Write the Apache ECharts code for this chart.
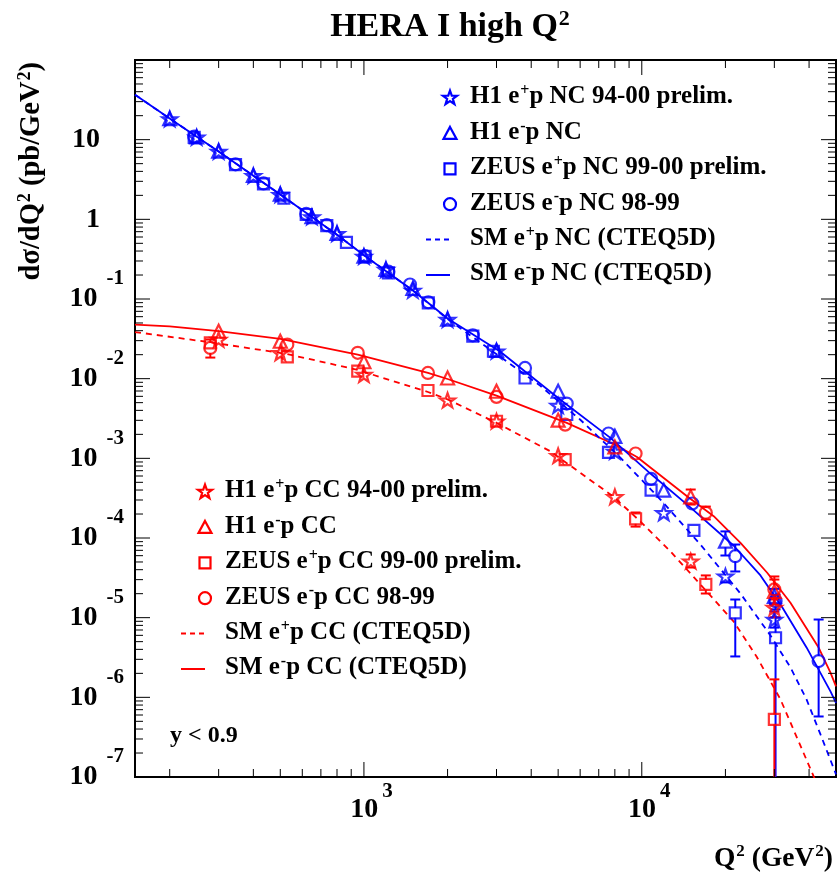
<!DOCTYPE html>
<html><head><meta charset="utf-8">
<script src="https://cdn.jsdelivr.net/npm/echarts@6/dist/echarts.min.js"></script>
<style>html,body{margin:0;padding:0;background:#fff}#c{width:837px;height:880px}</style>
</head><body><div id="c"></div>
<script>
// ---------------- DATA ----------------
// H1 e+p NC 94-00 prelim. (blue open stars)
const h1PosNC_q  = [200,250,300,400,500,650,800,1000,1200,1500,2000,3000,5000,8000,12000,20000,30000];
const h1PosNC_s  = [18.2,10.7,7.13,3.53,2.04,1.07,0.662,0.342,0.234,0.128,0.0552,0.0221,0.0046,0.00122,2.07e-4,3.32e-5,9.5e-6];
const h1PosNC_lo = [null,null,null,null,null,null,null,null,null,null,null,null,null,null,null,2.77e-5,7.5e-6];
const h1PosNC_hi = [null,null,null,null,null,null,null,null,null,null,null,null,null,null,null,3.91e-5,1.2e-5];
// H1 e-p NC (blue open triangles)
const h1NegNC_q  = [200,250,300,400,500,650,800,1000,1200,1500,2000,3000,5000,8000,12000,20000,30000];
const h1NegNC_s  = [18.4,10.8,7.2,3.56,2.07,1.08,0.668,0.346,0.236,0.136,0.0558,0.0226,0.00695,0.00189,3.98e-4,9.12e-5,1.85e-5];
const h1NegNC_lo = [null,null,null,null,null,null,null,null,null,null,null,null,null,null,null,6.03e-5,1.47e-5];
const h1NegNC_hi = [null,null,null,null,null,null,null,null,null,null,null,null,null,null,null,1.21e-4,2.3e-5];
// ZEUS e+p NC 99-00 prelim. (blue open squares)
const zeusPosNC_q  = [245,345,435,515,620,735,865,1010,1225,1705,2465,2925,3800,5370,7590,10800,15400,21700,30300];
const zeusPosNC_s  = [10.7,4.85,2.78,1.85,1.15,0.834,0.515,0.344,0.213,0.0893,0.0341,0.0221,0.0102,0.00355,0.00119,3.98e-4,1.25e-4,1.15e-5,5.6e-6];
const zeusPosNC_lo = [null,null,null,null,null,null,null,null,null,null,null,null,null,null,null,null,null,3.26e-6,1e-9];
const zeusPosNC_hi = [null,null,null,null,null,null,null,null,null,null,null,null,null,null,null,null,null,1.69e-5,1.01e-5];
// ZEUS e-p NC 98-99 (blue open circles)
const zeusNegNC_q  = [245,345,435,620,735,1010,1225,1465,1705,2465,3800,5370,7590,10800,15200,21700,30300,43300];
const zeusNegNC_s  = [10.9,4.9,2.82,1.17,0.845,0.345,0.22,0.152,0.091,0.035,0.01365,0.00487,0.00205,5.53e-4,2.71e-4,5.91e-5,1.61e-5,2.85e-6];
const zeusNegNC_lo = [null,null,null,null,null,null,null,null,null,null,null,null,null,null,null,3.8e-5,1.27e-5,5.75e-7];
const zeusNegNC_hi = [null,null,null,null,null,null,null,null,null,null,null,null,null,null,null,8.28e-5,1.95e-5,9.48e-6];
// H1 e+p CC 94-00 prelim. (red open stars)
const h1PosCC_q  = [300,500,1000,2000,3000,5000,8000,15000,30000];
const h1PosCC_s  = [0.031,0.0211,0.01125,0.00536,0.00292,0.00108,3.29e-4,5.12e-5,1.34e-5];
const h1PosCC_lo = [null,null,null,null,null,null,null,4.26e-5,1.01e-5];
const h1PosCC_hi = [null,null,null,null,null,null,null,6.21e-5,1.79e-5];
// H1 e-p CC (red open triangles)
const h1NegCC_q  = [300,500,1000,2000,3000,5000,8000,15000,30000];
const h1NegCC_s  = [0.0394,0.0295,0.0163,0.0102,0.00695,0.00301,0.00139,3.29e-4,2.13e-5];
const h1NegCC_lo = [0.034,null,null,null,null,null,null,2.63e-4,1.47e-5];
const h1NegCC_hi = [0.0464,null,null,null,null,null,null,4.06e-4,3.29e-5];
// ZEUS e+p CC 99-00 prelim. (red open squares)
const zeusPosCC_q  = [280,530,950,1700,3000,5300,9500,17000,30000];
const zeusPosCC_s  = [0.0281,0.0188,0.0124,0.0071,0.00292,9.66e-4,1.74e-4,2.61e-5,5.28e-7];
const zeusPosCC_lo = [null,null,null,null,null,null,1.39e-4,2.01e-5,1e-9];
const zeusPosCC_hi = [null,null,null,null,null,null,2.09e-4,3.39e-5,1.68e-6];
// ZEUS e-p CC 98-99 (red open circles)
const zeusNegCC_q  = [280,530,950,1700,3000,5300,9500,17000,30000];
const zeusNegCC_s  = [0.0243,0.0268,0.0211,0.0118,0.00591,0.00265,0.00115,2.07e-4,2.26e-5];
const zeusNegCC_lo = [0.0184,null,null,null,null,null,null,1.71e-4,1.69e-5];
const zeusNegCC_hi = [0.031,null,null,null,null,null,null,2.48e-4,3.01e-5];

// SM predictions (CTEQ5D)
const smNegNC_q = [150,200,300,500,800,1000,1500,2000,3090,5080,7690,10740,14960,21380,26740,32060,39170,47760,50000];
const smNegNC_s = [36.7,18.4,7.1,2.05,0.64,0.355,0.128,0.057,0.0219,0.00547,0.00182,6.44e-4,2.42e-4,8.05e-5,3.39e-5,1.34e-5,4.23e-6,1.19e-6,8.5e-7];
const smPosNC_q = [150,200,300,500,800,1000,1500,2000,3090,4305,5995,8370,11670,16260,22650,29040,34290,39170,43970,50000];
const smPosNC_s = [36.7,18.4,7.1,2.05,0.64,0.355,0.128,0.056,0.0189,0.00818,0.00307,0.00102,3.04e-4,8.28e-5,2.01e-5,5.98e-6,2.37e-6,9.42e-7,3.42e-7,1.08e-7];
const smNegCC_q = [150,200,300,500,950,1700,2000,3000,5370,8020,9610,14550,18150,22660,28270,34280,39400,43340,47760,50000];
const smNegCC_s = [0.0477,0.0454,0.0395,0.0315,0.02,0.0118,0.0099,0.00614,0.00279,0.00148,0.00104,3.34e-4,1.88e-4,8.71e-5,3.66e-5,1.54e-5,7.11e-6,4.19e-6,2.04e-6,1.37e-6];
const smPosCC_q = [150,280,525,940,1700,2000,3000,4680,7890,9890,12680,16260,21380,25880,31560,41540,47760];
const smPosCC_s = [0.0385,0.0286,0.0205,0.013,0.0068,0.0055,0.00279,0.00123,3.32e-4,1.61e-4,6.78e-5,2.61e-5,9.0e-6,3.26e-6,9.42e-7,1.02e-7,3.4e-8];

// axes
const xMin = 150, xMax = 50000, yMin = 1e-7, yMax = 100;
const xMajor = [1000, 10000];
const yMajor = [1e-7,1e-6,1e-5,1e-4,1e-3,1e-2,1e-1,1,10,100];
const mantissas = [2,3,4,5,6,7,8,9];

// ---------------- STYLE ----------------
const FONT = '"Liberation Serif","Times New Roman",serif';
const BLUE = '#0000ff', RED = '#ff0000';
const STAR = 'path://M10,0 L12.351,6.764 L19.511,6.910 L13.804,11.236 L15.878,18.090 L10,14 L4.122,18.090 L6.196,11.236 L0.489,6.910 L7.649,6.764 Z';

const zip = (q, s) => q.map((v, i) => [v, s[i]]);
const zipErr = (q, s, lo, hi) => q.map((v, i) => [v, s[i], lo[i], hi[i]]).filter(d => d[2] != null);

function scatter(name, q, s, symbol, size, color) {
  return { type: 'scatter', name, data: zip(q, s), symbol, symbolSize: size, symbolKeepAspect: true,
    itemStyle: { color: 'rgba(0,0,0,0)', borderColor: color, borderWidth: 2.2 }, z: 5, silent: true };
}
function line(name, q, s, color, dashed) {
  return { type: 'line', name, data: zip(q, s), showSymbol: false, symbol: 'none', smooth: false,
    lineStyle: { color, width: 1.8, type: dashed ? [6, 5] : 'solid' }, z: 3, silent: true };
}
function errBars(q, s, lo, hi, color, r) {
  return { type: 'custom', data: zipErr(q, s, lo, hi), encode: { x: 0, y: 1 }, clip: true, z: 4, silent: true,
    renderItem: function (params, api) {
      const p = api.coord([api.value(0), api.value(1)]);
      const pl = api.coord([api.value(0), api.value(2)]);
      const ph = api.coord([api.value(0), api.value(3)]);
      const st = { stroke: color, lineWidth: 2 };
      const ch = [];
      const cap = 5;
      if (ph[1] < p[1] - r) {
        ch.push({ type: 'line', shape: { x1: p[0], y1: p[1] - r, x2: p[0], y2: ph[1] }, style: st });
        ch.push({ type: 'line', shape: { x1: p[0] - cap, y1: ph[1], x2: p[0] + cap, y2: ph[1] }, style: st });
      }
      if (pl[1] > p[1] + r) {
        ch.push({ type: 'line', shape: { x1: p[0], y1: p[1] + r, x2: p[0], y2: pl[1] }, style: st });
        ch.push({ type: 'line', shape: { x1: p[0] - cap, y1: pl[1], x2: p[0] + cap, y2: pl[1] }, style: st });
      }
      return { type: 'group', children: ch };
    } };
}

// tick lists
const xTicks = [];
[100, 1000, 10000].forEach(d => mantissas.forEach(m => { const v = d * m; if (v > xMin && v < xMax) xTicks.push([v, 1, 8]); }));
xMajor.forEach(v => xTicks.push([v, 1, 15]));
const yTicks = [];
yMajor.forEach(d => { if (d < yMax) mantissas.forEach(m => yTicks.push([xMin, d * m, 8])); });
yMajor.forEach(v => yTicks.push([xMin, v, 15]));

const tickSeries = [
  { type: 'custom', data: xTicks, encode: { x: 0, y: 1 }, z: 6, silent: true,
    renderItem: function (params, api) {
      const cs = params.coordSys; const p = api.coord([api.value(0), 1]); const L = api.value(2);
      const st = { stroke: '#000', lineWidth: 1 };
      return { type: 'group', children: [
        { type: 'line', shape: { x1: p[0], y1: cs.y + cs.height, x2: p[0], y2: cs.y + cs.height - L }, style: st },
        { type: 'line', shape: { x1: p[0], y1: cs.y, x2: p[0], y2: cs.y + L }, style: st } ] };
    } },
  { type: 'custom', data: yTicks, encode: { x: 0, y: 1 }, z: 6, silent: true,
    renderItem: function (params, api) {
      const cs = params.coordSys; const p = api.coord([xMin, api.value(1)]); const L = api.value(2);
      const st = { stroke: '#000', lineWidth: 1 };
      return { type: 'group', children: [
        { type: 'line', shape: { x1: cs.x, y1: p[1], x2: cs.x + L, y2: p[1] }, style: st },
        { type: 'line', shape: { x1: cs.x + cs.width, y1: p[1], x2: cs.x + cs.width - L, y2: p[1] }, style: st } ] };
    } }
];

// ---------------- LEGENDS (graphic) ----------------
const legendNC = [
  ['star', BLUE, 'H1 e{s|+}p NC 94-00 prelim.'],
  ['triangle', BLUE, 'H1 e{s|-}p NC'],
  ['rect', BLUE, 'ZEUS e{s|+}p NC 99-00 prelim.'],
  ['circle', BLUE, 'ZEUS e{s|-}p NC 98-99'],
  ['dash', BLUE, 'SM e{s|+}p NC (CTEQ5D)'],
  ['solid', BLUE, 'SM e{s|-}p NC (CTEQ5D)']
];
const legendCC = [
  ['star', RED, 'H1 e{s|+}p CC 94-00 prelim.'],
  ['triangle', RED, 'H1 e{s|-}p CC'],
  ['rect', RED, 'ZEUS e{s|+}p CC 99-00 prelim.'],
  ['circle', RED, 'ZEUS e{s|-}p CC 98-99'],
  ['dash', RED, 'SM e{s|+}p CC (CTEQ5D)'],
  ['solid', RED, 'SM e{s|-}p CC (CTEQ5D)']
];
function starPts(cx, cy, R) {
  const pts = [];
  for (let k = 0; k < 10; k++) { const a = (k * 36 - 90) * Math.PI / 180; const r = k % 2 ? R * 0.4 : R; pts.push([cx + r * Math.cos(a), cy + r * Math.sin(a)]); }
  return pts;
}
function legendGraphics(items, mx, y0, dy) {
  const g = [];
  items.forEach((it, i) => {
    const cy = y0 + i * dy, col = it[1];
    const st = { fill: 'none', stroke: col, lineWidth: 2.2 };
    if (it[0] === 'star') g.push({ type: 'polygon', shape: { points: starPts(mx, cy, 7.5) }, style: st });
    if (it[0] === 'triangle') g.push({ type: 'polygon', shape: { points: [[mx, cy - 6.5], [mx + 6.5, cy + 5.5], [mx - 6.5, cy + 5.5]] }, style: st });
    if (it[0] === 'rect') g.push({ type: 'rect', shape: { x: mx - 5.5, y: cy - 5.5, width: 11, height: 11 }, style: st });
    if (it[0] === 'circle') g.push({ type: 'circle', shape: { cx: mx, cy: cy, r: 6 }, style: st });
    if (it[0] === 'dash') g.push({ type: 'line', shape: { x1: mx - 24, y1: cy, x2: mx, y2: cy }, style: { stroke: col, lineWidth: 2, lineDash: [5, 4] } });
    if (it[0] === 'solid') g.push({ type: 'line', shape: { x1: mx - 24, y1: cy, x2: mx, y2: cy }, style: { stroke: col, lineWidth: 2 } });
    g.push({ type: 'text', x: mx + 20, y: cy - 1, style: { text: it[2], fill: '#000', font: 'bold 25px ' + FONT, align: 'left', verticalAlign: 'middle',
      rich: { s: { fontSize: 16, fontWeight: 'bold', fontFamily: FONT, padding: [0, 0, 12, 1] } } } });
  });
  return g;
}
const supRich = (fs, pb) => ({ s: { fontSize: fs, fontWeight: 'bold', fontFamily: FONT, padding: [0, 0, pb, 1] } });

const graphics = [].concat(
  legendGraphics(legendNC, 450, 98, 35.4),
  legendGraphics(legendCC, 205, 492, 35.4),
  [
    { type: 'text', x: 450, y: 27, style: { text: 'HERA I high Q{s|2}', fill: '#000', font: 'bold 34px ' + FONT, align: 'center', verticalAlign: 'middle', rich: supRich(22, 16) } },
    { type: 'text', x: 170, y: 736, style: { text: 'y < 0.9', fill: '#000', font: 'bold 24px ' + FONT, align: 'left', verticalAlign: 'middle' } },
    { type: 'text', x: 833, y: 859, style: { text: 'Q{s|2} (GeV{s|2})', fill: '#000', font: 'bold 27.5px ' + FONT, align: 'right', verticalAlign: 'middle', rich: supRich(17, 14) } },
    { type: 'text', x: 32, y: 62, rotation: Math.PI / 2, style: { text: 'd\u03c3/dQ{s|2} (pb/GeV{s|2})', fill: '#000', font: 'bold 28.5px ' + FONT, align: 'right', verticalAlign: 'middle', rich: supRich(18, 14) } }
  ]
);

// ---------------- CHART ----------------
const labelBase = { fontFamily: FONT, fontWeight: 'bold', color: '#000' };
const chart = echarts.init(document.getElementById('c'), null, { renderer: 'canvas' });
chart.setOption({
  animation: false,
  backgroundColor: '#fff',
  grid: { left: 135, top: 60, width: 701, height: 717, show: true, borderColor: '#000', borderWidth: 2, backgroundColor: '#fff' },
  xAxis: { type: 'log', logBase: 10, min: xMin, max: xMax,
    axisLine: { show: false }, axisTick: { show: false }, splitLine: { show: false }, minorTick: { show: false },
    axisLabel: { margin: 4, showMinLabel: false, showMaxLabel: false,
      formatter: v => { const e = Math.round(Math.log10(v)); if (Math.abs(Math.log10(v) - e) > 1e-6) return ''; return '{b|10}{e|' + e + '}'; },
      rich: { b: Object.assign({ fontSize: 28, padding: [0, 0, 0, 15] }, labelBase), e: Object.assign({ fontSize: 21, padding: [0, 0, 37, 4] }, labelBase) } } },
  yAxis: { type: 'log', logBase: 10, min: yMin, max: yMax,
    axisLine: { show: false }, axisTick: { show: false }, splitLine: { show: false }, minorTick: { show: false },
    axisLabel: { margin: 11,
      formatter: v => { const e = Math.round(Math.log10(v)); if (Math.abs(Math.log10(v) - e) > 1e-6) return ''; if (e === 2) return ''; if (e === 1) return '{p|10}'; if (e === 0) return '{p|1}'; return '{b|10}{e|' + e + '}'; },
      rich: { b: Object.assign({ fontSize: 28 }, labelBase), p: Object.assign({ fontSize: 28, padding: [0, 24, 0, 0] }, labelBase), e: Object.assign({ fontSize: 21, padding: [0, 0, 40, 9] }, labelBase) } } },
  graphic: graphics,
  series: [
    line('SM e+p CC (CTEQ5D)', smPosCC_q, smPosCC_s, RED, true),
    line('SM e-p CC (CTEQ5D)', smNegCC_q, smNegCC_s, RED, false),
    line('SM e+p NC (CTEQ5D)', smPosNC_q, smPosNC_s, BLUE, true),
    line('SM e-p NC (CTEQ5D)', smNegNC_q, smNegNC_s, BLUE, false),
    errBars(h1PosNC_q, h1PosNC_s, h1PosNC_lo, h1PosNC_hi, BLUE, 6),
    errBars(h1NegNC_q, h1NegNC_s, h1NegNC_lo, h1NegNC_hi, BLUE, 6),
    errBars(zeusPosNC_q, zeusPosNC_s, zeusPosNC_lo, zeusPosNC_hi, BLUE, 5),
    errBars(zeusNegNC_q, zeusNegNC_s, zeusNegNC_lo, zeusNegNC_hi, BLUE, 5),
    errBars(h1PosCC_q, h1PosCC_s, h1PosCC_lo, h1PosCC_hi, RED, 6),
    errBars(h1NegCC_q, h1NegCC_s, h1NegCC_lo, h1NegCC_hi, RED, 6),
    errBars(zeusPosCC_q, zeusPosCC_s, zeusPosCC_lo, zeusPosCC_hi, RED, 5),
    errBars(zeusNegCC_q, zeusNegCC_s, zeusNegCC_lo, zeusNegCC_hi, RED, 5),
    scatter('H1 e+p NC 94-00 prelim.', h1PosNC_q, h1PosNC_s, STAR, 15, BLUE),
    scatter('H1 e-p NC', h1NegNC_q, h1NegNC_s, 'triangle', 13, BLUE),
    scatter('ZEUS e+p NC 99-00 prelim.', zeusPosNC_q, zeusPosNC_s, 'rect', 11, BLUE),
    scatter('ZEUS e-p NC 98-99', zeusNegNC_q, zeusNegNC_s, 'circle', 12, BLUE),
    scatter('H1 e+p CC 94-00 prelim.', h1PosCC_q, h1PosCC_s, STAR, 15, RED),
    scatter('H1 e-p CC', h1NegCC_q, h1NegCC_s, 'triangle', 13, RED),
    scatter('ZEUS e+p CC 99-00 prelim.', zeusPosCC_q, zeusPosCC_s, 'rect', 11, RED),
    scatter('ZEUS e-p CC 98-99', zeusNegCC_q, zeusNegCC_s, 'circle', 12, RED)
  ].concat(tickSeries)
});
</script></body></html>
